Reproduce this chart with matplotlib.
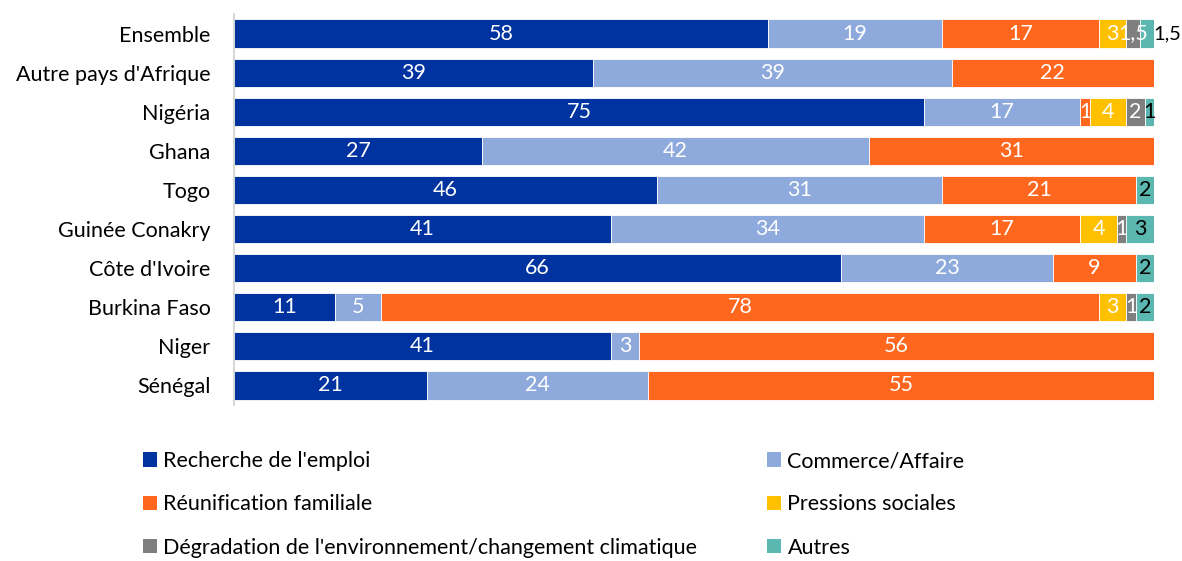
"""Stacked horizontal bars: reasons for migration by country of origin (%)."""

import matplotlib

matplotlib.use("Agg")
import matplotlib.pyplot as plt
from matplotlib.patches import Patch

plt.rcParams["font.family"] = ["Lato", "DejaVu Sans"]

countries = [
    "Ensemble",
    "Autre pays d'Afrique",
    "Nigéria",
    "Ghana",
    "Togo",
    "Guinée Conakry",
    "Côte d'Ivoire",
    "Burkina Faso",
    "Niger",
    "Sénégal",
]

emploi = [58, 39, 75, 27, 46, 41, 66, 11, 41, 21]
commerce = [19, 39, 17, 42, 31, 34, 23, 5, 3, 24]
reunification = [17, 22, 1, 31, 21, 17, 9, 78, 56, 55]
pressions = [3, 0, 4, 0, 0, 4, 0, 3, 0, 0]
degradation = [1.5, 0, 2, 0, 0, 1, 0, 1, 0, 0]
autres = [1.5, 0, 1, 0, 2, 3, 2, 2, 0, 0]

series_names = [
    "Recherche de l'emploi",
    "Commerce/Affaire",
    "Réunification familiale",
    "Pressions sociales",
    "Dégradation de l'environnement/changement climatique",
    "Autres",
]
series = [emploi, commerce, reunification, pressions, degradation, autres]
colors = ["#0033A0", "#8EA9DB", "#FF671F", "#FFC000", "#7F7F7F", "#5BB8B0"]
text_colors = ["white", "white", "white", "white", "white", "black"]

FS = 15.5


def fmt(v):
    return f"{v:g}".replace(".", ",")


fig = plt.figure(figsize=(11.82, 5.61), dpi=100)
ax = fig.add_axes([234 / 1182, 1 - 405 / 561, 920 / 1182, 391 / 561])

ypos = list(range(len(countries)))
left = [0.0] * len(countries)
for k, (vals, color, tcolor) in enumerate(zip(series, colors, text_colors)):
    ax.barh(ypos, vals, left=left, height=0.72, color=color,
            edgecolor="white", linewidth=0.6)
    for i, v in enumerate(vals):
        if v <= 0:
            continue
        # the last slice of the "Ensemble" row is labelled outside the bar
        if i == 0 and k == len(series) - 1:
            ax.text(99.95, i, fmt(v), ha="left", va="center",
                    fontsize=14.5, color="black")
        else:
            ax.text(left[i] + v / 2, i, fmt(v), ha="center", va="center",
                    fontsize=FS, color=tcolor)
    left = [l + v for l, v in zip(left, vals)]

ax.set_xlim(0, 100)
ax.set_ylim(len(countries) - 0.5, -0.5)
ax.set_yticks(ypos)
ax.set_yticklabels(countries, fontsize=FS)
ax.tick_params(axis="y", length=0, pad=17)
ax.set_xticks([])
for side in ["top", "right", "bottom"]:
    ax.spines[side].set_visible(False)
ax.spines["left"].set_color("#D0D0D0")
ax.spines["left"].set_linewidth(1.2)

handles = [Patch(facecolor=c, edgecolor="none") for c in colors]
col1 = [0, 2, 4]
col2 = [1, 3, 5]
for cols, x0 in [(col1, 143 / 1182), (col2, 767 / 1182)]:
    fig.legend(
        [handles[k] for k in cols],
        [series_names[k] for k in cols],
        loc="upper left",
        bbox_to_anchor=(x0, 1 - 451 / 561),
        frameon=False,
        fontsize=FS,
        handlelength=0.65,
        handleheight=0.65,
        handletextpad=0.3,
        labelspacing=1.08,
        borderaxespad=0,
        borderpad=0,
    )

fig.savefig("out.png", dpi=100)
plt.close(fig)
